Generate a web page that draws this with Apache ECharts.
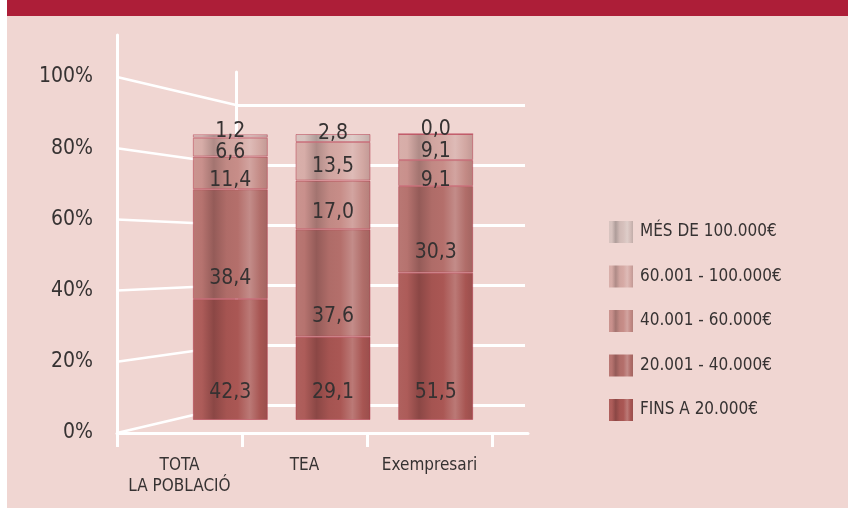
<!DOCTYPE html>
<html>
<head>
<meta charset="utf-8">
<script src="https://cdn.jsdelivr.net/npm/echarts@6/dist/echarts.min.js"></script>
<style>
  html, body { margin: 0; padding: 0; background: #fff; }
  #chart { width: 848px; height: 508px; }
</style>
</head>
<body>
<div id="chart"></div>
<script>
// data
const categories = ['TOTA\nLA POBLACIÓ', 'TEA', 'Exempresari']
const bandNames = ['FINS A 20.000€', '20.001 - 40.000€', '40.001 - 60.000€', '60.001 - 100.000€', 'MÉS DE 100.000€']
const fins20 = [42.3, 29.1, 51.5]
const de20a40 = [38.4, 37.6, 30.3]
const de40a60 = [11.4, 17.0, 9.1]
const de60a100 = [6.6, 13.5, 9.1]
const mesDe100 = [1.2, 2.8, 0.0]
const percentTicks = [0, 20, 40, 60, 80, 100]

const bands = [fins20, de20a40, de40a60, de60a100, mesDe100]

const FONT = '"Liberation Sans Narrow", "DejaVu Sans Condensed", "Roboto", sans-serif'
const ink = '#363232'
const bg = '#f0d6d2'
const white = '#ffffff'

// base tone per band, from dark (FINS) to pale grey (MÉS)
const baseColors = ['#aa5754', '#b46f6b', '#c78d88', '#d6aaa5', '#d6c0bc']

const shade = (hex, f) => {
  const n = parseInt(hex.slice(1), 16)
  const ch = [(n >> 16) & 255, (n >> 8) & 255, n & 255]
  const out = ch.map((c) => Math.round(f < 0 ? c * (1 + f) : c + (255 - c) * f))
  return `rgb(${out.join(',')})`
}

// cylinder-ish vertical streaks
const barGradient = (hex) => new echarts.graphic.LinearGradient(0, 0, 1, 0, [
  { offset: 0, color: shade(hex, 0.06) },
  { offset: 0.12, color: shade(hex, 0.03) },
  { offset: 0.28, color: shade(hex, -0.18) },
  { offset: 0.45, color: shade(hex, -0.03) },
  { offset: 0.6, color: hex },
  { offset: 0.76, color: shade(hex, 0.2) },
  { offset: 0.9, color: shade(hex, -0.02) },
  { offset: 1, color: shade(hex, -0.1) },
])

// label placement per band
const labelPlace = [
  { position: 'insideBottom', distance: 17 },
  { position: 'insideBottom', distance: 10 },
  { position: 'inside', offset: [0, 8] },
  { position: 'inside', offset: [0, 5] },
  { position: 'inside', offset: [0, -4] },
]

const fmt = (v) => Number(v).toFixed(1).replace('.', ',')

const chart = echarts.init(document.getElementById('chart'))

const BARS = 0, BACK = 1, FRONT = 2, CATS = 3

chart.setOption({
  backgroundColor: bg,
  animation: false,
  textStyle: { fontFamily: FONT, color: ink },
  legend: {
    data: bandNames.slice().reverse(),
    orient: 'vertical',
    left: 604,
    top: 216,
    itemWidth: 24,
    itemHeight: 22,
    itemGap: 22.5,
    icon: 'rect',
    itemStyle: { borderWidth: 0 },
    textStyle: { fontFamily: FONT, fontSize: 17, color: ink, padding: [0, 0, 0, 2] },
  },
  grid: [
    { left: 179, right: 361, top: 134, bottom: 88 },
    { left: 236, right: 323, top: 72, bottom: 103 },
    { left: 117, right: 320, top: 35, bottom: 75 },
    { left: 117, right: 356, top: 35, bottom: 75 },
  ],
  xAxis: [
    { gridIndex: BARS, type: 'category', data: categories, show: false },
    { gridIndex: BACK, type: 'value', min: 0, max: 1, show: false },
    {
      gridIndex: FRONT, type: 'value', min: 0, max: 1,
      axisLine: { lineStyle: { color: white, width: 3 } },
      axisTick: { show: false }, axisLabel: { show: false }, splitLine: { show: false },
    },
    {
      gridIndex: CATS, type: 'category', data: categories,
      axisLine: { show: false },
      axisTick: { show: true, length: 14, lineStyle: { color: white, width: 3 } },
      axisLabel: { interval: 0, color: ink, fontFamily: FONT, fontSize: 17, lineHeight: 21, margin: 22 },
      splitLine: { show: false },
    },
  ],
  yAxis: [
    { gridIndex: BARS, type: 'value', min: 0, max: 100, show: false },
    {
      gridIndex: BACK, type: 'value', min: 0, max: 111, interval: 20,
      axisLine: { show: true, lineStyle: { color: white, width: 3 } },
      axisTick: { show: false }, axisLabel: { show: false },
      splitLine: { show: true, showMaxLine: false, lineStyle: { color: white, width: 3 } },
    },
    {
      gridIndex: FRONT, type: 'value', min: 0, max: 111.8, interval: 20,
      axisLine: { show: true, lineStyle: { color: white, width: 3 } },
      axisTick: { show: false },
      axisLabel: {
        color: ink, fontFamily: FONT, fontSize: 21, margin: 24,
        showMaxLabel: false, formatter: '{value}%',
      },
      splitLine: { show: false },
    },
    { gridIndex: CATS, type: 'value', min: 0, max: 111.8, show: false },
  ],
  series: bands.map((values, i) => ({
    name: bandNames[i],
    type: 'bar',
    stack: 'total',
    xAxisIndex: BARS,
    yAxisIndex: BARS,
    barWidth: 75,
    data: values,
    itemStyle: {
      color: barGradient(baseColors[i]),
      borderColor: 'rgba(178,44,66,0.45)',
      borderWidth: 1,
    },
    label: {
      show: true,
      ...labelPlace[i],
      color: ink,
      fontFamily: FONT,
      fontSize: 21,
      formatter: (p) => fmt(p.value),
    },
  })),
})

// perspective frame: join each front tick to the same value on the back wall
const frontX = chart.convertToPixel({ xAxisIndex: FRONT }, 0)
const backX = chart.convertToPixel({ xAxisIndex: BACK }, 0)
const diagonals = percentTicks.map((v) => ({
  type: 'line',
  z: 0,
  shape: {
    x1: frontX,
    y1: chart.convertToPixel({ yAxisIndex: FRONT }, v),
    x2: backX,
    y2: chart.convertToPixel({ yAxisIndex: BACK }, v),
  },
  style: { stroke: white, lineWidth: 2.5 },
}))

chart.setOption({
  graphic: {
    elements: [
      { type: 'rect', z: 0, shape: { x: 0, y: 0, width: 7, height: 508 }, style: { fill: white } },
      { type: 'rect', z: 0, shape: { x: 7, y: 0, width: 841, height: 16 }, style: { fill: '#ad1e38' } },
      ...diagonals,
    ],
  },
})

window.addEventListener('resize', () => chart.resize())
</script>
</body>
</html>
